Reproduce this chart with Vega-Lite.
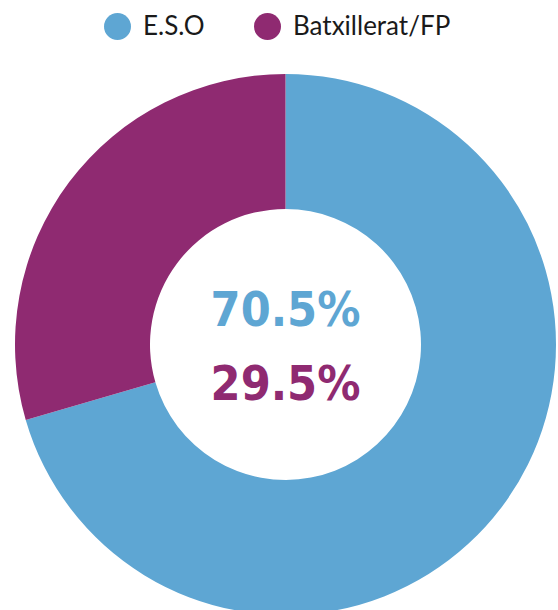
{
  "$schema": "https://vega.github.io/schema/vega-lite/v6.json",
  "width": 541,
  "height": 541,
  "autosize": "none",
  "padding": {"left": 15, "top": 74, "right": 2, "bottom": 0},
  "background": "white",
  "data": {
    "values": [
      {"category": "E.S.O", "value": 70.5, "label": "70.5%", "idx": 1},
      {"category": "Batxillerat/FP", "value": 29.5, "label": "29.5%", "idx": 2}
    ]
  },
  "config": {"view": {"stroke": null}},
  "layer": [
    {
      "mark": {"type": "arc", "radius": 270.5, "radius2": 135.5, "stroke": null},
      "encoding": {
        "theta": {"field": "value", "type": "quantitative", "stack": true},
        "order": {"field": "idx", "type": "quantitative"},
        "color": {
          "field": "category",
          "type": "nominal",
          "scale": {"domain": ["E.S.O", "Batxillerat/FP"], "range": ["#5EA6D3", "#8F2A71"]},
          "legend": {
            "title": null,
            "orient": "none",
            "legendX": 89,
            "legendY": -61,
            "direction": "horizontal",
            "padding": 0,
            "symbolType": "circle",
            "symbolSize": 729,
            "symbolStrokeWidth": 0,
            "symbolOpacity": 1,
            "labelFont": "Lato",
            "labelFontSize": 26,
            "labelColor": "#1a1a1a",
            "labelOffset": 12,
            "columnPadding": 49,
            "labelLimit": 300
          }
        }
      }
    },
    {
      "transform": [{"filter": "datum.category === 'E.S.O'"}],
      "mark": {"type": "text", "font": "DejaVu Sans Condensed", "fontWeight": "bold", "fontSize": 48, "dy": -33, "baseline": "middle", "align": "center"},
      "encoding": {
        "text": {"field": "label"},
        "color": {"field": "category", "type": "nominal", "legend": null}
      }
    },
    {
      "transform": [{"filter": "datum.category === 'Batxillerat/FP'"}],
      "mark": {"type": "text", "font": "DejaVu Sans Condensed", "fontWeight": "bold", "fontSize": 48, "dy": 41.5, "baseline": "middle", "align": "center"},
      "encoding": {
        "text": {"field": "label"},
        "color": {"field": "category", "type": "nominal", "legend": null}
      }
    }
  ]
}
